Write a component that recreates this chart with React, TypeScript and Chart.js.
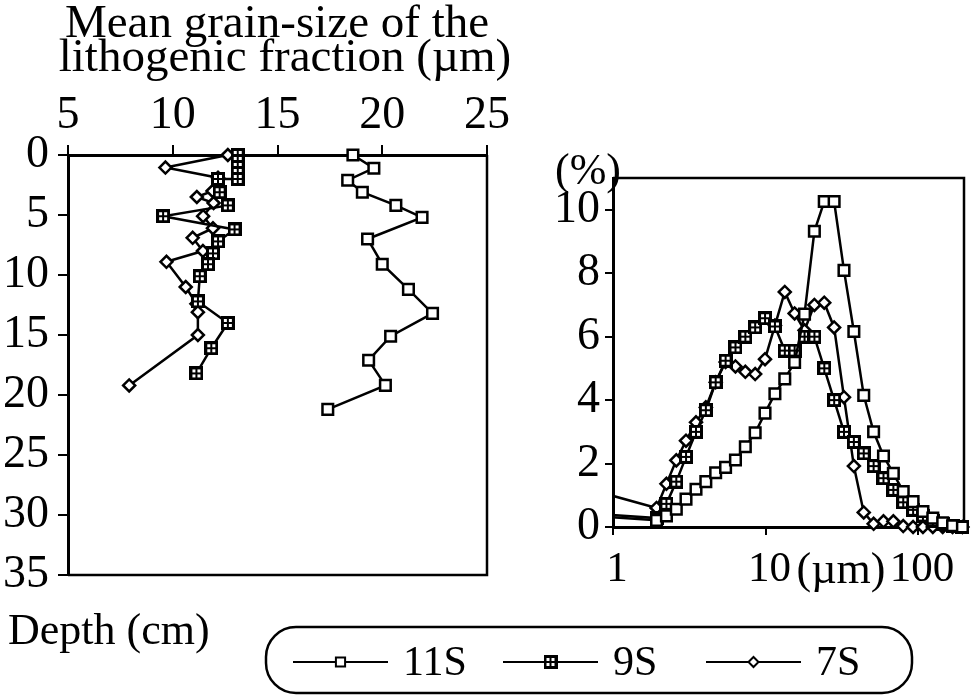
import React, { useEffect, useRef } from "react";
import { Chart, registerables } from "chart.js";

Chart.register(...registerables);

const FONT = "'Liberation Serif', 'Times New Roman', Times, serif";
const PAGE_W = 974;
const PAGE_H = 697;
const TICK_SIZE = 46;

// ---------- Left panel: mean grain size (µm) versus depth (cm) ----------
const grainTicks = [5, 10, 15, 20, 25];
const depthTicks = [0, 5, 10, 15, 20, 25, 30, 35];

const depth11S = [0, 1.1, 2.1, 3.1, 4.2, 5.2, 7.0, 9.1, 11.2, 13.2, 15.1, 17.1, 19.2, 21.2];
const grain11S = [18.6, 19.6, 18.35, 19.05, 20.65, 21.9, 19.3, 20.0, 21.25, 22.4, 20.4, 19.35, 20.15, 17.4];

const depth9S = [0, 0.5, 1.0, 1.5, 2.0, 2.0, 3.1, 4.2, 5.1, 6.2, 7.2, 8.2, 9.1, 10.1, 12.2, 14.0, 16.1, 18.2];
const grain9S = [13.1, 13.1, 13.1, 13.1, 13.1, 12.16, 12.24, 12.63, 9.54, 12.95, 12.16, 11.92, 11.68, 11.29, 11.2, 12.63, 11.84, 11.13];

const depth7S = [0, 1.05, 1.9, 3.0, 3.5, 4.0, 5.1, 6.1, 6.9, 8.0, 8.9, 11.0, 12.4, 13.1, 15.0, 19.2];
const grain7S = [12.63, 9.65, 12.16, 11.9, 11.15, 11.95, 11.45, 11.92, 10.95, 11.44, 9.7, 10.62, 11.13, 11.2, 11.2, 7.92];

// ---------- Right panel: grain-size distribution (%) ----------
const sizeTicks = [1, 10, 100];
const percentTicks = [0, 2, 4, 6, 8, 10];
const sizes = [0.5, 1.93, 2.24, 2.6, 3.01, 3.5, 4.06, 4.71, 5.47, 6.35, 7.37, 8.55, 9.92, 11.52, 13.37, 15.51, 18.01, 20.9, 24.26, 28.16, 32.68, 37.93, 44.03, 51.1, 59.31, 68.84, 79.9, 92.73, 107.6, 124.9, 145, 168.3, 195.3];
const pct11S = [0.41, 0.21, 0.35, 0.56, 0.88, 1.19, 1.43, 1.71, 1.88, 2.11, 2.53, 2.97, 3.59, 4.2, 4.67, 5.19, 6.71, 9.32, 10.26, 10.26, 8.09, 6.16, 4.15, 3.0, 2.24, 1.69, 1.12, 0.8, 0.49, 0.28, 0.13, 0.04, 0.0];
const pct9S = [0.48, 0.28, 0.73, 1.43, 2.21, 3.0, 3.68, 4.56, 5.24, 5.66, 6.0, 6.29, 6.58, 6.32, 5.56, 5.56, 6.0, 6.0, 5.0, 4.0, 3.0, 2.68, 2.32, 1.92, 1.54, 1.17, 0.78, 0.54, 0.36, 0.2, 0.08, 0.03, 0.0];
const pct7S = [1.38, 0.6, 1.36, 2.1, 2.72, 3.3, 3.77, 4.56, 5.2, 5.06, 4.89, 4.82, 5.29, 6.35, 7.41, 6.73, 6.2, 7.0, 7.07, 6.29, 4.09, 1.92, 0.46, 0.1, 0.18, 0.18, 0.03, 0, 0, 0, 0, 0, 0];

const seriesNames = ["11S", "9S", "7S"];

function makeCrossSquare(): HTMLCanvasElement {
  const size = 14;
  const c = document.createElement("canvas");
  c.width = size;
  c.height = size;
  const g = c.getContext("2d")!;
  g.fillStyle = "#fff";
  g.fillRect(1, 1, size - 2, size - 2);
  g.strokeStyle = "#000";
  g.lineWidth = 3;
  g.strokeRect(1.5, 1.5, size - 3, size - 3);
  g.lineWidth = 2;
  g.beginPath();
  g.moveTo(size / 2, 2);
  g.lineTo(size / 2, size - 2);
  g.moveTo(2, size / 2);
  g.lineTo(size - 2, size / 2);
  g.stroke();
  return c;
}

function styleFor(name: string, cross: HTMLCanvasElement) {
  const base = {
    borderColor: "#000",
    borderWidth: 2.5,
    pointBorderColor: "#000",
    pointBackgroundColor: "#fff",
    pointBorderWidth: 2.5,
    pointHoverRadius: 0,
    tension: 0,
    fill: false,
  };
  if (name === "11S") return { ...base, pointStyle: "rect", pointRadius: 7.5 };
  if (name === "9S") return { ...base, pointStyle: cross, pointRadius: 7 };
  return { ...base, pointStyle: "rectRot", pointRadius: 6 };
}

function axisCommon(tickLength: number, padding: number, size: number = TICK_SIZE) {
  return {
    grid: {
      drawOnChartArea: false,
      drawTicks: true,
      tickLength,
      color: "#000",
      tickColor: "#000",
      tickWidth: 2,
      lineWidth: 2,
    },
    border: { display: true, color: "#000", width: 3 },
    ticks: {
      color: "#000",
      font: { family: FONT, size, lineHeight: 1 },
      padding,
      maxRotation: 0,
      autoSkip: false,
    },
  };
}

function drawMarker(ctx: CanvasRenderingContext2D, ds: any, x: number, y: number) {
  const ps = ds.pointStyle;
  const r = ds.pointRadius;
  if (ps instanceof HTMLCanvasElement) {
    ctx.drawImage(ps, x - ps.width / 2, y - ps.height / 2);
    return;
  }
  ctx.beginPath();
  if (ps === "rect") {
    const s = r * Math.SQRT1_2;
    ctx.rect(x - s, y - s, 2 * s, 2 * s);
  } else {
    ctx.moveTo(x - r, y);
    ctx.lineTo(x, y - r);
    ctx.lineTo(x + r, y);
    ctx.lineTo(x, y + r);
    ctx.closePath();
  }
  ctx.fillStyle = "#fff";
  ctx.fill();
  ctx.lineWidth = 2;
  ctx.strokeStyle = "#000";
  ctx.stroke();
}

const leftDecor = {
  id: "leftDecor",
  beforeDatasetsDraw(chart: any) {
    const { ctx, chartArea: ca } = chart;
    ctx.save();
    ctx.strokeStyle = "#000";
    ctx.lineWidth = 2.5;
    ctx.beginPath();
    ctx.moveTo(ca.right, ca.top);
    ctx.lineTo(ca.right, ca.bottom);
    ctx.lineTo(ca.left, ca.bottom);
    ctx.stroke();
    ctx.restore();
  },
  afterDraw(chart: any) {
    const { ctx } = chart;
    ctx.save();
    ctx.fillStyle = "#000";
    ctx.textBaseline = "alphabetic";
    ctx.textAlign = "center";
    ctx.font = `47px ${FONT}`;
    ctx.fillText("Mean grain-size of the", 277, 37);
    ctx.fillText("lithogenic fraction (\u00b5m)", 285, 71);
    ctx.font = `44px ${FONT}`;
    ctx.textAlign = "left";
    ctx.textBaseline = "middle";
    ctx.fillText("Depth (cm)", 8, 632);
    ctx.restore();
  },
};

const rightDecor = {
  id: "rightDecor",
  beforeDatasetsDraw(chart: any) {
    const { ctx, chartArea: ca } = chart;
    ctx.save();
    ctx.strokeStyle = "#000";
    ctx.lineWidth = 2.5;
    ctx.beginPath();
    ctx.moveTo(ca.left, ca.top);
    ctx.lineTo(ca.right, ca.top);
    ctx.lineTo(ca.right, ca.bottom);
    ctx.stroke();
    ctx.restore();
  },
  afterDraw(chart: any) {
    const { ctx } = chart;
    ctx.save();
    ctx.fillStyle = "#000";
    ctx.font = `44px ${FONT}`;
    ctx.textAlign = "center";
    ctx.textBaseline = "middle";
    ctx.fillText("(%)", 588, 172);
    ctx.fillText("(\u00b5m)", 841, 571);

    // legend pill
    const L = 266, T = 627, R = 912, B = 693, rad = 30;
    ctx.lineWidth = 2.5;
    ctx.strokeStyle = "#000";
    ctx.beginPath();
    ctx.moveTo(L + rad, T);
    ctx.lineTo(R - rad, T);
    ctx.arcTo(R, T, R, T + rad, rad);
    ctx.lineTo(R, B - rad);
    ctx.arcTo(R, B, R - rad, B, rad);
    ctx.lineTo(L + rad, B);
    ctx.arcTo(L, B, L, B - rad, rad);
    ctx.lineTo(L, T + rad);
    ctx.arcTo(L, T, L + rad, T, rad);
    ctx.stroke();

    const starts = [293, 503, 706];
    const lineLen = 95;
    const y = 662;
    chart.data.datasets.forEach((ds: any, i: number) => {
      const x0 = starts[i];
      ctx.strokeStyle = "#000";
      ctx.lineWidth = 2;
      ctx.beginPath();
      ctx.moveTo(x0, y);
      ctx.lineTo(x0 + lineLen, y);
      ctx.stroke();
      drawMarker(ctx, { ...ds, pointRadius: ds.pointStyle === "rectRot" ? 5 : 6.5 }, x0 + lineLen / 2, y);
      ctx.fillStyle = "#000";
      ctx.textAlign = "left";
      ctx.textBaseline = "middle";
      ctx.font = `42px ${FONT}`;
      ctx.fillText(ds.label, x0 + lineLen + 15, y + 2);
    });
    ctx.restore();
  },
};

export default function App() {
  const leftRef = useRef<HTMLCanvasElement>(null);
  const rightRef = useRef<HTMLCanvasElement>(null);

  useEffect(() => {
    if (!leftRef.current || !rightRef.current) return;
    const cross = makeCrossSquare();

    const leftSeries = [
      { depth: depth11S, grain: grain11S },
      { depth: depth9S, grain: grain9S },
      { depth: depth7S, grain: grain7S },
    ];
    const rightSeries = [pct11S, pct9S, pct7S];

    const xL = axisCommon(10, 6);
    const yL = axisCommon(10, 9);
    const left = new Chart(leftRef.current, {
      type: "scatter",
      data: {
        datasets: seriesNames.map((name, i) => ({
          label: name,
          data: leftSeries[i].depth.map((d, j) => ({ x: leftSeries[i].grain[j], y: d })),
          showLine: true,
          clip: false,
          ...styleFor(name, cross),
        })) as any,
      },
      options: {
        responsive: false,
        animation: false,
        devicePixelRatio: 1,
        events: [],
        layout: { padding: { left: 0, top: 0, right: PAGE_W - 487, bottom: PAGE_H - 575 } },
        plugins: { legend: { display: false }, tooltip: { enabled: false } },
        scales: {
          x: {
            type: "linear",
            position: "top",
            min: 5,
            max: 25,
            ...xL,
            afterBuildTicks: (s: any) => {
              s.ticks = grainTicks.map((v) => ({ value: v }));
            },
            afterFit: (s: any) => {
              s.height = 155;
            },
          },
          y: {
            type: "linear",
            position: "left",
            reverse: true,
            min: 0,
            max: 35,
            ...yL,
            afterBuildTicks: (s: any) => {
              s.ticks = depthTicks.map((v) => ({ value: v }));
            },
            afterFit: (s: any) => {
              s.width = 68;
            },
          },
        },
      } as any,
      plugins: [leftDecor],
    });

    const xR = axisCommon(8, 13, 43);
    const yR = axisCommon(8, 5);
    const right = new Chart(rightRef.current, {
      type: "line",
      data: {
        datasets: seriesNames.map((name, i) => ({
          label: name,
          data: sizes.map((s, j) => ({ x: s, y: rightSeries[i][j] })),
          clip: { left: 1, top: false, right: false, bottom: false },
          ...styleFor(name, cross),
        })) as any,
      },
      options: {
        responsive: false,
        animation: false,
        devicePixelRatio: 1,
        events: [],
        layout: { padding: { left: 613 - 60, top: 178, right: PAGE_W - 964, bottom: PAGE_H - 527 - 60 } },
        plugins: { legend: { display: false }, tooltip: { enabled: false } },
        scales: {
          x: {
            type: "logarithmic",
            position: "bottom",
            min: 1,
            max: 200,
            ...xR,
            ticks: { ...xR.ticks, labelOffset: 4, callback: (v: any) => String(v) },
            afterBuildTicks: (s: any) => {
              s.ticks = sizeTicks.map((v) => ({ value: v }));
            },
            afterFit: (s: any) => {
              s.height = 60;
            },
          },
          y: {
            type: "linear",
            position: "left",
            min: 0,
            max: 11,
            ...yR,
            afterBuildTicks: (s: any) => {
              s.ticks = percentTicks.map((v) => ({ value: v }));
            },
            afterFit: (s: any) => {
              s.width = 60;
            },
          },
        },
      } as any,
      plugins: [rightDecor],
    });

    return () => {
      left.destroy();
      right.destroy();
    };
  }, []);

  const canvasStyle: React.CSSProperties = {
    position: "absolute",
    left: 0,
    top: 0,
    width: PAGE_W,
    height: PAGE_H,
  };

  return (
    <div style={{ position: "absolute", left: 0, top: 0, width: PAGE_W, height: PAGE_H, background: "#fff" }}>
      <canvas ref={leftRef} width={PAGE_W} height={PAGE_H} style={canvasStyle} />
      <canvas ref={rightRef} width={PAGE_W} height={PAGE_H} style={canvasStyle} />
    </div>
  );
}
